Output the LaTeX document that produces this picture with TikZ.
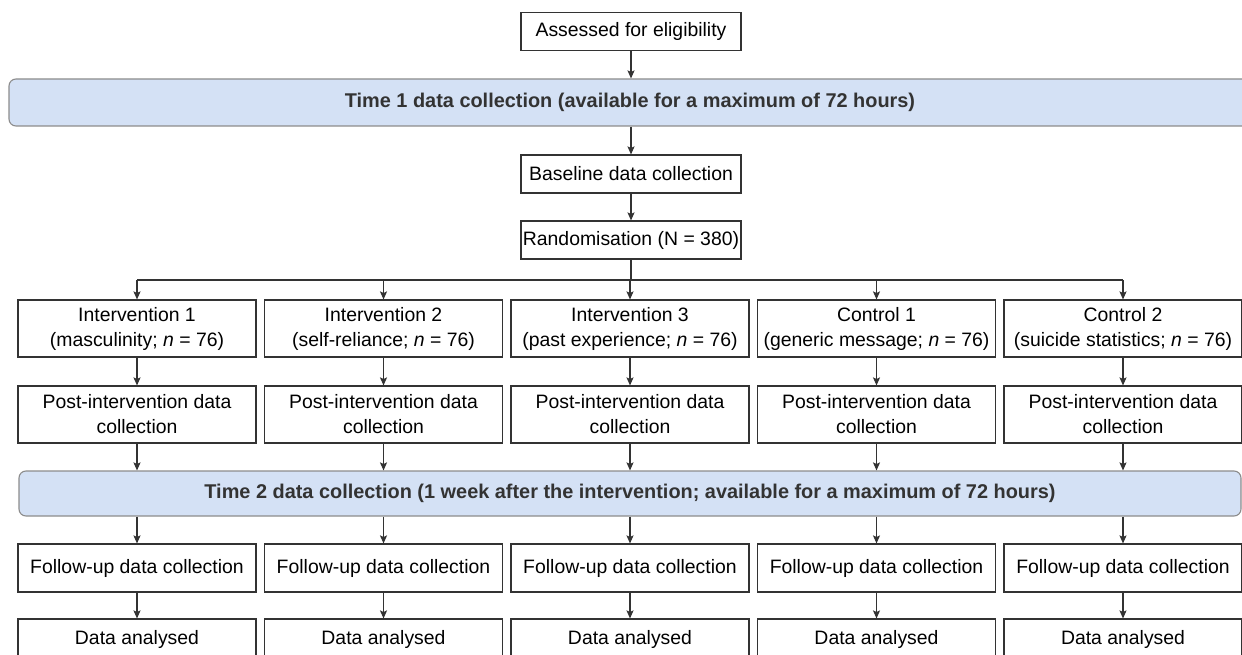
\documentclass[tikz,border=0pt]{standalone}
\usepackage{fontspec}
\setmainfont{Liberation Sans}
\usepackage{xcolor}
\usepackage{tikz}
\usetikzlibrary{arrows.meta,positioning,calc}
\definecolor{bandblue}{HTML}{D4E1F5}
\definecolor{bandline}{HTML}{8C8C8C}
\definecolor{boxline}{HTML}{333333}

\tikzset{
  box/.style={rectangle,draw=boxline,line width=1.1pt,minimum width=238pt,minimum height=57pt,inner sep=0pt,align=center,font=\fontsize{19.4}{25}\selectfont},
  topbox/.style={box,minimum width=220pt,minimum height=38pt},
  band/.style={rectangle,rounded corners=7pt,draw=bandline,line width=1.1pt,fill=bandblue,inner sep=0pt,text=boxline,font=\bfseries\fontsize{19.9}{25}\selectfont},
  arr/.style={-{Stealth[length=8pt,width=7pt,inset=1.5pt]},line width=1.2pt,draw=boxline}
}

\begin{document}
\begin{tikzpicture}[x=1pt,y=-1pt]
    \useasboundingbox (0,0) rectangle (1242,655);

    % Enrolment and Time 1
    \node[topbox] (assess) at (631,31.5) {Assessed for eligibility};
    \node[band,minimum width=1242pt,minimum height=47pt] (t1) at (630,102.5) {Time 1 data collection (available for a maximum of 72 hours)};
    \node[topbox] (base) at (631,174) {Baseline data collection};
    \node[topbox] (rand) at (631,240) {Randomisation (N = 380)};
    \draw[arr] (assess) -- (assess |- t1.north);
    \draw[arr] (t1.south -| base) -- (base);
    \draw[arr] (base) -- (rand);

    % Time 2
    \node[band,minimum width=1222pt,minimum height=45pt] (t2) at (630,493.5) {Time 2 data collection (1 week after the intervention; available for a maximum of 72 hours)};

    % Arms
    \foreach \i/\name/\arm in {1/Intervention 1/masculinity, 2/Intervention 2/self-reliance, 3/Intervention 3/past experience, 4/Control 1/generic message, 5/Control 2/suicide statistics} {
        \pgfmathsetmacro\cx{137+246.5*(\i-1)}
        \node[box] (int\i) at (\cx,328.5) {\name\\(\arm; \textit{n} = 76)};
        \node[box] (post\i) at (\cx,414.5) {Post-intervention data\\collection};
        \node[box,minimum height=48pt] (fu\i) at (\cx,568) {Follow-up data collection};
        \node[box,minimum height=40pt] (da\i) at (\cx,639) {Data analysed};
        \draw[arr] (int\i) -- (post\i);
        \draw[arr] (post\i) -- (post\i |- t2.north);
        \draw[arr] (t2.south -| fu\i) -- (fu\i);
        \draw[arr] (fu\i) -- (da\i);
    }

    % Randomisation split
    \coordinate (split) at (631,280);
    \draw[line width=1.2pt,draw=boxline] (rand) -- (split);
    \draw[line width=1.2pt,draw=boxline] (split -| int1) -- (split -| int5);
    \foreach \i in {1,...,5}
        \draw[arr] (split -| int\i) -- (int\i);
\end{tikzpicture}
\end{document}
